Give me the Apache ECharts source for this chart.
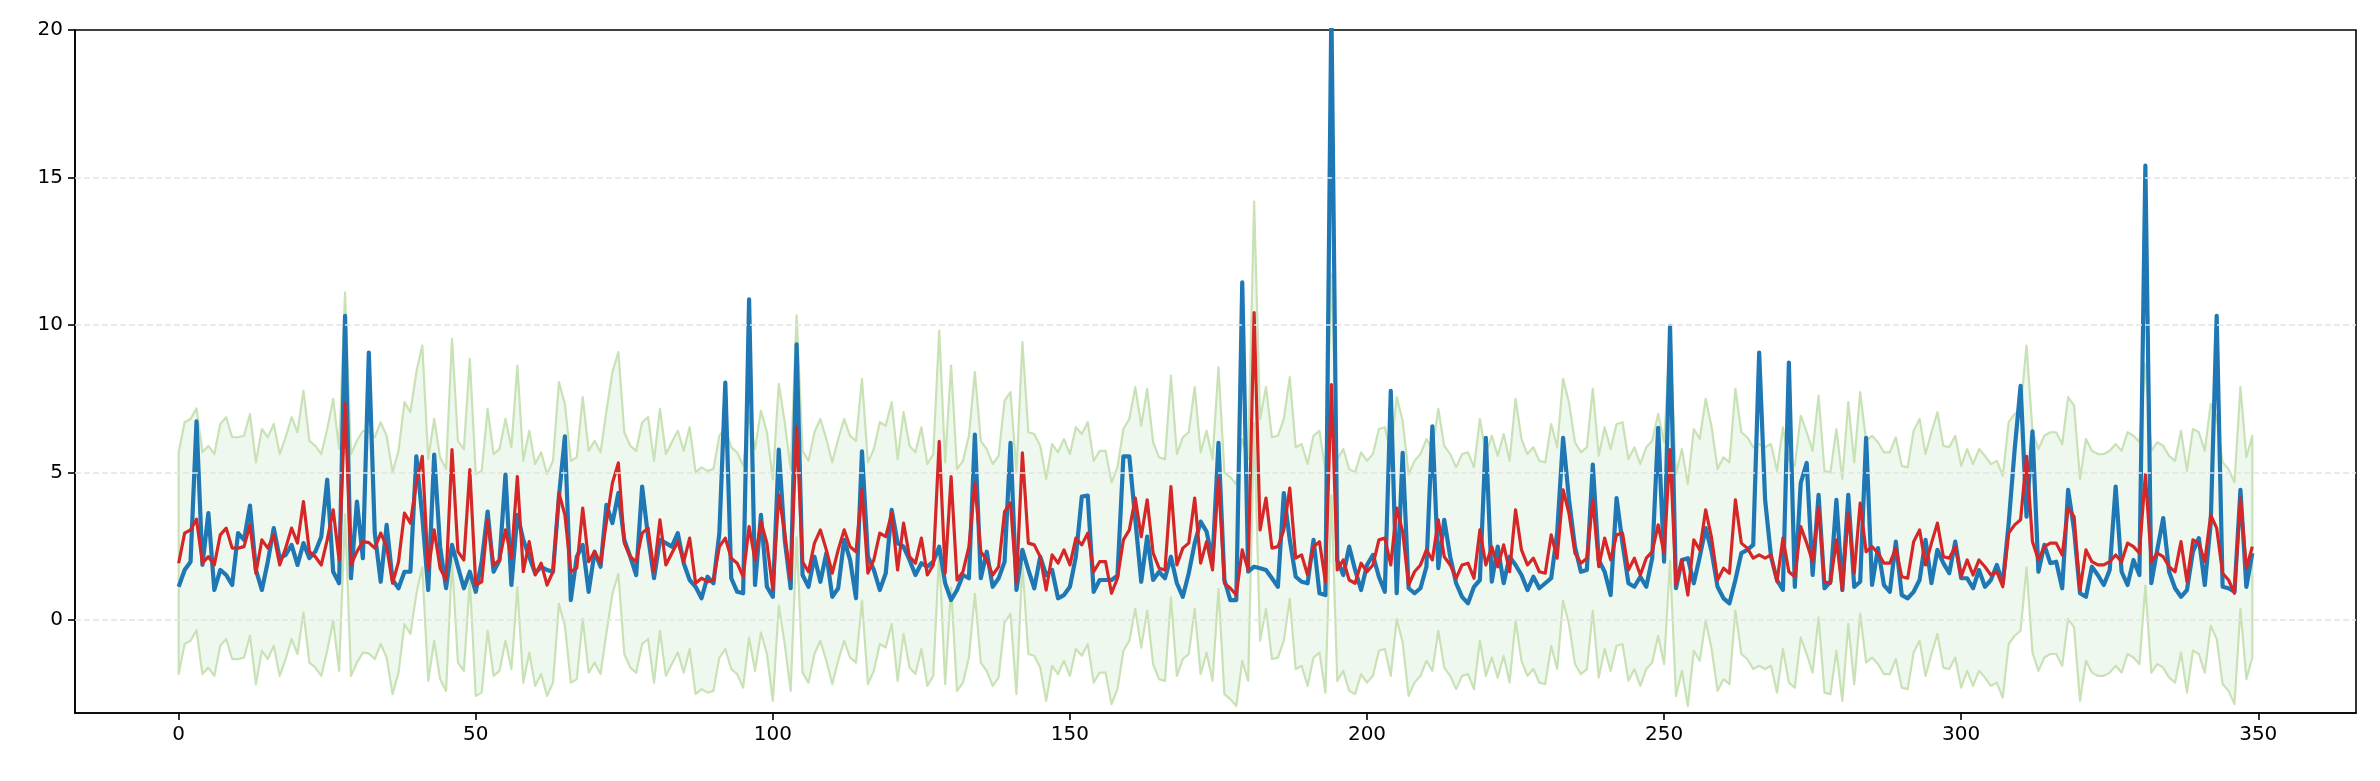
<!DOCTYPE html>
<html>
<head>
<meta charset="utf-8">
<script src="https://cdn.jsdelivr.net/npm/echarts@6/dist/echarts.min.js"></script>
<style>
html,body{margin:0;padding:0;background:#ffffff;}
#chart{width:2380px;height:781px;}
</style>
</head>
<body>
<div id="chart"></div>
<script>
// Observed series (blue)
const actual = [
1.12,1.69,1.97,6.73,1.86,3.62,1.01,1.69,1.52,1.18,2.94,2.71,3.87,1.69,1.01,1.97,3.11,2.09,2.20,2.54,1.86,2.6,2.09,2.31,2.82,4.75,1.63,1.24,10.31,1.41,4.01,2.09,9.06,2.94,1.29,3.22,1.35,1.07,1.63,
1.63,5.54,3.50,1.01,5.60,2.48,1.07,2.54,1.80,1.07,1.63,0.95,1.97,3.67,1.63,2.03,4.92,1.18,3.56,2.71,2.14,1.58,1.80,1.69,1.63,4.18,6.22,0.67,2.14,2.54,0.95,2.31,1.80,3.90,3.28,4.30,2.71,2.14,1.52,
4.52,2.82,1.41,2.71,2.60,2.48,2.94,1.92,1.35,1.12,0.73,1.46,1.24,2.94,8.04,1.41,0.95,0.90,10.87,1.18,3.56,1.12,0.78,5.77,2.71,1.07,9.34,1.52,1.12,2.14,1.29,2.26,0.78,1.07,2.71,2.03,0.73,5.71,2.14,
1.69,1.01,1.58,3.73,2.60,2.48,2.03,1.52,1.92,1.80,1.97,2.48,1.24,0.67,1.01,1.52,1.41,6.28,1.41,2.31,1.12,1.41,1.97,6.00,1.01,2.37,1.69,1.07,2.14,1.52,1.69,0.73,0.84,1.12,2.14,4.18,4.21,0.95,1.35,
1.35,1.35,1.50,5.54,5.54,3.40,1.29,2.82,1.35,1.63,1.41,2.14,1.24,0.78,1.58,2.60,3.33,2.99,2.03,6.00,1.35,0.67,0.67,11.44,1.63,1.80,1.75,1.69,1.41,1.12,4.30,2.71,1.46,1.29,1.24,2.71,0.90,0.84,20.8,
2.03,1.52,2.48,1.69,1.01,1.86,2.20,1.46,0.95,7.76,0.90,5.66,1.07,0.90,1.07,1.80,6.56,1.75,3.39,2.14,1.24,0.78,0.56,1.12,1.35,6.17,1.29,2.48,1.24,2.14,1.86,1.52,1.01,1.46,1.07,1.24,1.41,2.94,6.17,
4.07,2.48,1.63,1.69,5.26,2.03,1.63,0.84,4.13,2.60,1.24,1.12,1.46,1.12,2.09,6.51,1.97,9.97,1.07,2.03,2.09,1.24,2.14,3.11,2.31,1.12,0.73,0.56,1.35,2.26,2.37,2.54,9.06,4.07,2.14,1.35,1.01,8.72,1.12,4.64,
5.32,1.52,4.24,1.07,1.29,4.07,1.01,4.24,1.12,1.29,6.17,1.18,2.43,1.18,0.95,2.65,0.84,0.73,0.95,1.35,2.71,1.24,2.37,1.92,1.58,2.65,1.41,1.41,1.07,1.69,1.12,1.35,1.86,1.24,3.28,5.77,7.93,3.50,6.39,
1.63,2.54,1.92,1.97,1.07,4.41,3.05,0.90,0.78,1.80,1.52,1.18,1.69,4.52,1.63,1.18,2.03,1.52,15.4,1.24,2.37,3.45,1.63,1.07,0.78,1.01,2.31,2.77,1.18,3.28,10.31,1.12,1.07,0.95,4.41,1.12,2.26
];

// Predicted series (red)
const predicted = [
1.92,2.94,3.05,3.41,1.92,2.14,1.86,2.88,3.11,2.43,2.43,2.48,3.22,1.58,2.71,2.43,2.88,1.86,2.43,3.11,2.60,4.01,2.31,2.14,1.86,2.71,3.73,2.03,7.34,1.86,2.31,2.65,2.62,2.43,2.94,2.48,1.24,1.97,3.62,
3.28,4.64,5.54,1.69,3.05,1.75,1.35,5.77,2.31,2.03,5.09,1.18,1.29,3.39,1.86,2.03,3.05,2.09,4.86,1.63,2.65,1.52,1.92,1.18,1.63,4.30,3.56,1.63,1.75,3.79,1.97,2.31,1.92,3.33,4.64,5.32,2.60,2.14,1.97,
2.94,3.11,1.63,3.39,1.86,2.26,2.65,1.97,2.77,1.24,1.41,1.29,1.35,2.48,2.77,2.09,1.92,1.46,3.16,2.03,3.33,2.60,1.01,4.24,2.94,1.35,6.56,1.97,1.63,2.60,3.05,2.37,1.58,2.37,3.05,2.48,2.31,4.41,1.58,
2.03,2.94,2.82,3.62,1.69,3.28,2.14,1.92,2.77,1.52,1.86,6.05,1.58,4.86,1.35,1.63,2.48,4.64,2.31,2.03,1.52,1.80,3.67,3.96,1.24,5.66,2.60,2.54,2.14,1.01,2.20,1.92,2.37,1.86,2.77,2.54,2.94,1.63,1.97,
1.97,0.90,1.41,2.71,3.05,4.13,2.82,4.07,2.26,1.75,1.69,4.52,1.86,2.43,2.60,4.13,1.92,2.65,1.69,4.81,1.24,1.07,0.84,2.37,1.69,10.42,3.05,4.13,2.43,2.48,3.05,4.47,2.09,2.20,1.52,2.48,2.65,1.29,7.98,
1.69,2.03,1.35,1.24,1.92,1.63,1.86,2.71,2.77,1.86,3.79,2.99,1.18,1.63,1.86,2.37,2.03,3.39,2.14,1.86,1.41,1.86,1.92,1.41,3.05,1.86,2.48,1.80,2.54,1.63,3.73,2.37,1.86,2.09,1.63,1.58,2.88,2.09,4.41,
3.6,2.26,1.92,2.09,4.07,1.80,2.77,2.03,2.88,2.94,1.69,2.09,1.52,2.09,2.31,3.22,2.26,5.77,1.18,2.03,0.84,2.71,2.37,3.73,2.77,1.35,1.75,1.58,4.07,2.60,2.43,2.09,2.20,2.09,2.20,1.29,2.77,1.63,1.46,3.16,
2.60,1.97,3.84,1.29,1.24,2.71,1.01,3.62,1.58,3.96,2.31,2.48,2.26,1.92,1.92,2.43,1.46,1.41,2.65,3.05,1.86,2.60,3.28,2.14,2.09,2.48,1.46,2.03,1.52,2.03,1.80,1.52,1.63,1.12,2.94,3.22,3.39,5.54,2.65,
2.03,2.48,2.60,2.60,2.20,3.79,3.50,1.01,2.37,1.97,1.86,1.86,1.97,2.20,1.97,2.60,2.48,2.26,4.92,1.97,2.26,2.14,1.80,1.63,2.65,1.29,2.71,2.60,1.97,3.56,3.11,1.58,1.35,0.90,4.13,1.75,2.48
];

// Width of the shaded interval around the prediction (constant band)
const intervalHalfWidth = 3.76;

// Tick labels
const xTickLabels = [0, 50, 100, 150, 200, 250, 300, 350];
const yTickLabels = [0, 5, 10, 15, 20];
const gridLevels = [0, 5, 10, 15];

const idx = actual.map((_, i) => i);
const upper = predicted.map(v => v + intervalHalfWidth);
const lower = predicted.map(v => v - intervalHalfWidth);

function renderBand(params, api) {
  const pts = [];
  for (let i = 0; i < upper.length; i++) pts.push(api.coord([idx[i], upper[i]]));
  for (let i = lower.length - 1; i >= 0; i--) pts.push(api.coord([idx[i], lower[i]]));
  return {
    type: 'polygon',
    shape: { points: pts },
    style: { fill: 'rgba(44,160,44,0.08)', stroke: '#c8e2b6', lineWidth: 2.2, lineJoin: 'round' },
    silent: true
  };
}

const FONT = 'DejaVu Sans';
const chart = echarts.init(document.getElementById('chart'), null, { renderer: 'canvas' });
chart.setOption({
  animation: false,
  backgroundColor: '#ffffff',
  grid: { left: 75, right: 24, top: 30, bottom: 68, show: true, borderColor: '#000', borderWidth: 1.6, backgroundColor: 'transparent' },
  xAxis: {
    type: 'value', min: -17.45, max: 366.45,
    axisLine: { show: true, onZero: false, lineStyle: { color: '#000', width: 1.6 } },
    axisTick: { show: true, customValues: xTickLabels, length: 7, lineStyle: { color: '#000', width: 1.6 } },
    axisLabel: { customValues: xTickLabels, margin: 12, fontSize: 20, color: '#000', fontFamily: FONT },
    splitLine: { show: false }
  },
  yAxis: {
    type: 'value', min: -3.16, max: 20,
    axisLine: { show: true, onZero: false, lineStyle: { color: '#000', width: 1.6 } },
    axisTick: { show: true, customValues: yTickLabels, length: 7, lineStyle: { color: '#000', width: 1.6 } },
    axisLabel: { customValues: yTickLabels, margin: 12, fontSize: 20, color: '#000', fontFamily: FONT },
    splitLine: { show: false }
  },
  series: [
    {
      type: 'line', name: 'grid', data: [[0, 0]], symbol: 'none', lineStyle: { opacity: 0 }, z: 0, silent: true,
      markLine: {
        silent: true, symbol: ['none', 'none'], label: { show: false }, animation: false,
        lineStyle: { color: '#e4e4e4', width: 1.6, type: [6, 3] },
        data: gridLevels.map(v => ({ yAxis: v }))
      }
    },
    { type: 'custom', name: 'interval', renderItem: renderBand, data: [[0, 0]], z: 1, silent: true, clip: true },
    {
      type: 'line', name: 'actual', data: idx.map(i => [i, actual[i]]), showSymbol: false, symbol: 'none',
      lineStyle: { color: '#1f77b4', width: 4.2, join: 'round', cap: 'butt' }, z: 3, clip: true
    },
    {
      type: 'line', name: 'predicted', data: idx.map(i => [i, predicted[i]]), showSymbol: false, symbol: 'none',
      lineStyle: { color: '#d62728', width: 3.2, join: 'round', cap: 'butt' }, z: 4, clip: true
    }
  ]
});
</script>
</body>
</html>
